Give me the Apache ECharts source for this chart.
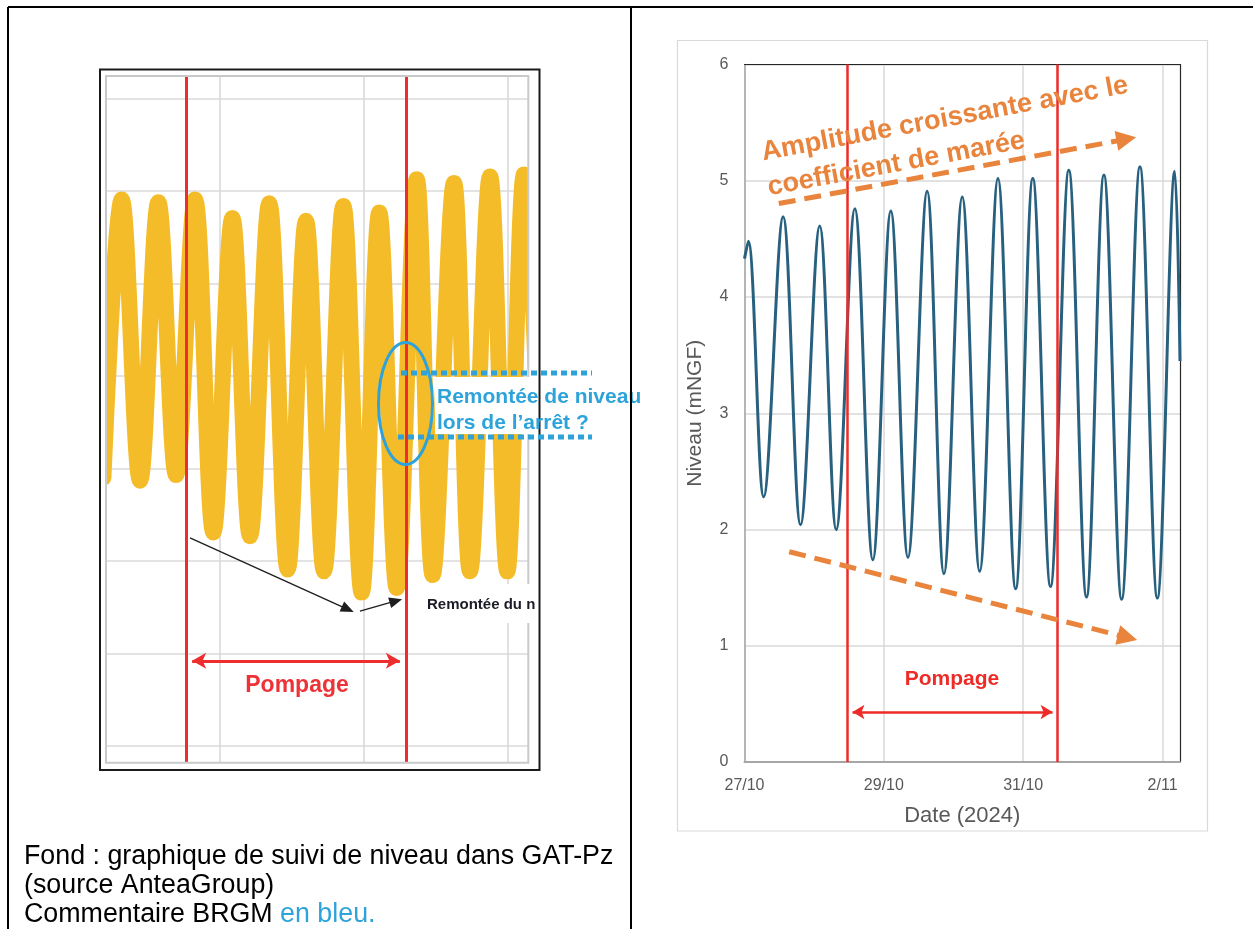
<!DOCTYPE html>
<html>
<head>
<meta charset="utf-8">
<script src="https://cdn.jsdelivr.net/npm/echarts/dist/echarts.min.js"></script>
<style>html,body{margin:0;padding:0;background:#fff}#c{width:1253px;height:929px}</style>
</head>
<body>
<div id="c"></div>
<script>
// ---------- Left panel (scanned GAT-Pz chart): time in days, level in grid units ----------
const leftDays   = [0.39, 0.644, 0.899, 1.153, 1.399, 1.663, 1.917, 2.181, 2.426, 2.694, 2.95, 3.204, 3.454, 3.722, 3.978, 4.222, 4.464, 4.742, 4.964, 5.26, 5.482, 5.76, 6.0, 6.232, 6.49];
const leftLevels = [2.9, 5.91, 2.87, 5.88, 2.93, 5.91, 2.31, 5.71, 2.27, 5.87, 1.91, 5.68, 1.89, 5.84, 1.66, 5.77, 1.71, 6.13, 1.85, 6.09, 1.89, 6.16, 1.89, 6.18, 2.0];
const leftXRange = [0.426, 6.292];
const leftYRange = [-0.18, 7.246];
const leftHGrid = [0, 1, 2, 3, 4, 5, 6, 7];
const leftVGrid = [2, 4, 6];
const leftPumpDays = [1.5375, 4.593];

// ---------- Right panel: hours since 27/10/2024 00:00, level in mNGF ----------
const rightHours  = [0, 1.3, 6.6, 13.3, 19.3, 25.9, 31.6, 38.0, 44.2, 50.4, 56.3, 62.9, 68.7, 75.0, 81.0, 87.3, 93.4, 99.3, 105.4, 111.7, 117.8, 123.8, 129.9, 136.2, 142.2, 148.2, 150];
const rightLevels = [4.33, 4.48, 2.28, 4.69, 2.04, 4.61, 2.00, 4.76, 1.74, 4.74, 1.76, 4.91, 1.62, 4.86, 1.64, 5.02, 1.49, 5.02, 1.51, 5.09, 1.42, 5.05, 1.40, 5.12, 1.41, 5.08, 3.45];
const rightTickHours  = [0, 48, 96, 144];
const rightTickLabels = ['27/10', '29/10', '31/10', '2/11'];
const rightPumpHours = [35.5, 107.8];

const FONT = '"Liberation Sans", Arial, sans-serif';
const RED = '#EE2B27';
const ORANGE = '#E9843D';
const BLUE = '#2EA3DA';
const YELLOW = '#F5BC2A';
const deg = Math.PI / 180;

const leftData = leftDays.map((d, i) => [d, leftLevels[i]]);
const rightData = rightHours.map((h, i) => [h, rightLevels[i]]);

const chart = echarts.init(document.getElementById('c'), null, {renderer: 'canvas', width: 1253, height: 929});

const noLabel = {show: false};
const option = {
  animation: false,
  backgroundColor: '#ffffff',
  grid: [
    {left: 106, top: 76, width: 422.3, height: 686.7, show: false, containLabel: false, outerBoundsMode: 'none'},
    {left: 744.5, top: 64.5, width: 435.5, height: 697.5, show: false, containLabel: false, outerBoundsMode: 'none'}
  ],
  xAxis: [
    {gridIndex: 0, type: 'value', min: leftXRange[0], max: leftXRange[1], show: false},
    {gridIndex: 1, type: 'value', min: 0, max: 150, interval: 48, position: 'bottom',
      axisLine: {show: true, onZero: false, lineStyle: {color: '#a6a6a6', width: 2}},
      axisTick: {show: false},
      splitLine: {show: true, showMaxLine: false, lineStyle: {color: '#d9d9d9', width: 1.5}},
      axisLabel: {show: true, margin: 16, color: '#595959', fontSize: 16, fontFamily: FONT, showMaxLabel: true,
        formatter: v => { const i = rightTickHours.indexOf(v); return i >= 0 ? rightTickLabels[i] : ''; }},
      name: 'Date (2024)', nameLocation: 'middle', nameGap: 43,
      nameTextStyle: {color: '#595959', fontSize: 22, fontFamily: FONT}},
    {gridIndex: 1, type: 'value', min: 0, max: 150, position: 'top',
      axisLine: {show: true, onZero: false, lineStyle: {color: '#262626', width: 1.2}},
      axisTick: {show: false}, axisLabel: {show: false}, splitLine: {show: false}}
  ],
  yAxis: [
    {gridIndex: 0, type: 'value', min: leftYRange[0], max: leftYRange[1], show: false},
    {gridIndex: 1, type: 'value', min: 0, max: 6, interval: 1, position: 'left',
      axisLine: {show: true, onZero: false, lineStyle: {color: '#a6a6a6', width: 1.5}},
      axisTick: {show: false},
      splitLine: {show: true, showMinLine: false, lineStyle: {color: '#d9d9d9', width: 1.5}},
      axisLabel: {margin: 16, color: '#595959', fontSize: 16, fontFamily: FONT},
      name: 'Niveau (mNGF)', nameLocation: 'middle', nameGap: 39,
      nameTextStyle: {color: '#595959', fontSize: 21, fontFamily: FONT}},
    {gridIndex: 1, type: 'value', min: 0, max: 6, position: 'right',
      axisLine: {show: true, onZero: false, lineStyle: {color: '#262626', width: 1.2}},
      axisTick: {show: false}, axisLabel: {show: false}, splitLine: {show: false}}
  ],
  series: [
    // left: background grid lines
    {type: 'line', xAxisIndex: 0, yAxisIndex: 0, data: [], silent: true,
      markLine: {silent: true, z: 1, symbol: ['none', 'none'], label: noLabel, emphasis: {disabled: true},
        lineStyle: {color: '#dadada', width: 1.6, type: 'solid'},
        data: leftHGrid.map(v => ({yAxis: v})).concat(leftVGrid.map(v => ({xAxis: v})))}},
    // left: level trace (yellow dots)
    {type: 'line', xAxisIndex: 0, yAxisIndex: 0, data: leftData, smooth: 0.36, showSymbol: false, clip: true, z: 2, silent: true,
      lineStyle: {color: YELLOW, width: 16, cap: 'round', join: 'round'}},
    // left: pumping period
    {type: 'line', xAxisIndex: 0, yAxisIndex: 0, data: [], silent: true,
      markLine: {silent: true, z: 6, symbol: ['none', 'none'], label: noLabel, emphasis: {disabled: true},
        lineStyle: {color: '#EE2E2E', width: 3, type: 'solid'},
        data: [
          {xAxis: leftPumpDays[0]}, {xAxis: leftPumpDays[1]},
          [{coord: [leftPumpDays[0] + 0.085, 0.922], symbol: 'arrow', symbolSize: [12, 14]},
           {coord: [leftPumpDays[1] - 0.085, 0.922], symbol: 'arrow', symbolSize: [12, 14]}]
        ]}},
    // left: black arrows
    {type: 'line', xAxisIndex: 0, yAxisIndex: 0, data: [], silent: true,
      markLine: {silent: true, z: 7, symbol: ['none', 'triangle'], symbolSize: [11, 13], label: noLabel, emphasis: {disabled: true},
        lineStyle: {color: '#1e1e1e', width: 1.3, type: 'solid'},
        data: [
          [{coord: [1.593, 2.252]}, {coord: [3.785, 1.479]}],
          [{coord: [3.954, 1.459]}, {coord: [4.453, 1.569]}]
        ]}},
    // right: measured level
    {type: 'line', xAxisIndex: 1, yAxisIndex: 1, data: rightData, smooth: 0.36, showSymbol: false, clip: true, z: 3, silent: true,
      lineStyle: {color: '#27617F', width: 3, join: 'round'}},
    // right: pumping period
    {type: 'line', xAxisIndex: 1, yAxisIndex: 1, data: [], silent: true,
      markLine: {silent: true, z: 6, symbol: ['none', 'none'], label: noLabel, emphasis: {disabled: true},
        lineStyle: {color: RED, width: 2.5, type: 'solid'},
        data: [
          {xAxis: rightPumpHours[0]}, {xAxis: rightPumpHours[1]},
          [{coord: [rightPumpHours[0] + 1.7, 0.43], symbol: 'arrow', symbolSize: [11, 12]},
           {coord: [rightPumpHours[1] - 1.7, 0.43], symbol: 'arrow', symbolSize: [11, 12]}]
        ]}},
    // right: trend arrows
    {type: 'line', xAxisIndex: 1, yAxisIndex: 1, data: [], silent: true,
      markLine: {silent: true, z: 8, symbol: ['none', 'triangle'], symbolSize: [20, 20], label: noLabel, emphasis: {disabled: true},
        lineStyle: {color: ORANGE, width: 5, type: [17, 9]},
        data: [
          [{coord: [11.8, 4.804]}, {coord: [131.5, 5.358]}],
          [{coord: [15.4, 1.809]}, {coord: [131.9, 1.071]}]
        ]}}
  ],
  graphic: [
    // page table lines
    {type: 'line', z: 100, shape: {x1: 8, y1: 7, x2: 1253, y2: 7}, style: {stroke: '#000', lineWidth: 2}},
    {type: 'line', z: 100, shape: {x1: 8, y1: 7, x2: 8, y2: 929}, style: {stroke: '#000', lineWidth: 2}},
    {type: 'line', z: 100, shape: {x1: 631, y1: 7, x2: 631, y2: 929}, style: {stroke: '#000', lineWidth: 2}},
    // left scanned chart: margins outside the plot, plot border, outer frame
    {type: 'rect', z: 44, shape: {x: 60, y: 60, width: 46, height: 720}, style: {fill: '#fff'}},
    {type: 'rect', z: 44, shape: {x: 528.3, y: 60, width: 40, height: 720}, style: {fill: '#fff'}},
    {type: 'rect', z: 45, shape: {x: 106, y: 76, width: 422.3, height: 686.7}, style: {fill: null, stroke: '#c9c9c9', lineWidth: 2}},
    {type: 'rect', z: 50, shape: {x: 100, y: 69.5, width: 439.5, height: 700.5}, style: {fill: null, stroke: '#1a1a1a', lineWidth: 2}},
    // right chart frame
    {type: 'rect', z: 50, shape: {x: 677.5, y: 40.5, width: 530, height: 790.5}, style: {fill: null, stroke: '#d9d9d9', lineWidth: 1.2}},
    // "Remontée du n" box
    {type: 'rect', z: 47, shape: {x: 421, y: 584, width: 117, height: 39}, style: {fill: '#fff'}},
    {type: 'text', z: 48, x: 427, y: 605, style: {text: 'Remontée du n', fill: '#1c1c28', fontSize: 15, fontWeight: 'bold', fontFamily: FONT, textAlign: 'left', textVerticalAlign: 'middle'}},
    // left "Pompage"
    {type: 'text', z: 48, x: 297, y: 686, style: {text: 'Pompage', fill: '#EE3338', fontSize: 23, fontWeight: 'bold', fontFamily: FONT, textAlign: 'center', textVerticalAlign: 'middle'}},
    // BRGM blue annotation
    {type: 'rect', z: 47, shape: {x: 435, y: 377, width: 196, height: 57}, style: {fill: '#fff'}},
    {type: 'ellipse', z: 52, shape: {cx: 405.5, cy: 403.5, rx: 27, ry: 61}, style: {fill: null, stroke: BLUE, lineWidth: 3}},
    {type: 'line', z: 52, shape: {x1: 401, y1: 373, x2: 592, y2: 373}, style: {stroke: BLUE, lineWidth: 5, lineDash: [6, 4]}},
    {type: 'line', z: 52, shape: {x1: 398, y1: 437, x2: 592, y2: 437}, style: {stroke: BLUE, lineWidth: 5, lineDash: [6, 4]}},
    {type: 'text', z: 53, x: 437, y: 397, style: {text: 'Remontée de niveau', fill: BLUE, fontSize: 21, fontWeight: 'bold', fontFamily: FONT, textAlign: 'left', textVerticalAlign: 'middle'}},
    {type: 'text', z: 53, x: 437, y: 423, style: {text: 'lors de l\u2019arrêt ?', fill: BLUE, fontSize: 21, fontWeight: 'bold', fontFamily: FONT, textAlign: 'left', textVerticalAlign: 'middle'}},
    // caption
    {type: 'text', z: 43, x: 24, y: 857, style: {text: 'Fond : graphique de suivi de niveau dans GAT-Pz', fill: '#000', fontSize: 26.8, fontFamily: FONT, textAlign: 'left', textVerticalAlign: 'middle'}},
    {type: 'text', z: 43, x: 24, y: 886, style: {text: '(source AnteaGroup)', fill: '#000', fontSize: 26.8, fontFamily: FONT, textAlign: 'left', textVerticalAlign: 'middle'}},
    {type: 'text', z: 43, x: 24, y: 915, style: {text: '{k|Commentaire BRGM }{b|en bleu.}', fontFamily: FONT, textAlign: 'left', textVerticalAlign: 'middle',
      rich: {k: {fill: '#000', fontSize: 26.8, fontFamily: FONT}, b: {fill: BLUE, fontSize: 26.8, fontFamily: FONT}}}},
    // right annotations
    {type: 'text', z: 60, x: 762, y: 153, rotation: 10.5 * deg, style: {text: 'Amplitude croissante avec le', fill: ORANGE, fontSize: 27, fontWeight: 'bold', fontFamily: FONT, textAlign: 'left', textVerticalAlign: 'middle'}},
    {type: 'text', z: 60, x: 768, y: 188, rotation: 10.5 * deg, style: {text: 'coefficient de marée', fill: ORANGE, fontSize: 27, fontWeight: 'bold', fontFamily: FONT, textAlign: 'left', textVerticalAlign: 'middle'}},
    {type: 'text', z: 60, x: 952, y: 679, style: {text: 'Pompage', fill: RED, fontSize: 21, fontWeight: 'bold', fontFamily: FONT, textAlign: 'center', textVerticalAlign: 'middle'}}
  ]
};
chart.setOption(option);
</script>
</body>
</html>
